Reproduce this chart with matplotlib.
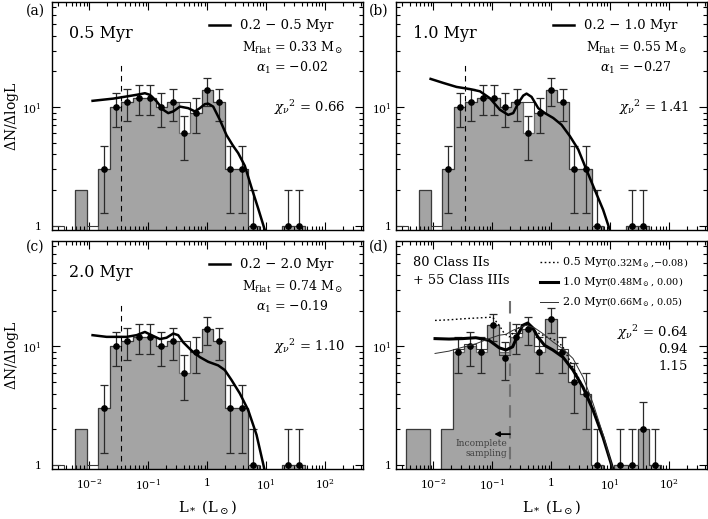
import numpy as np
import matplotlib
matplotlib.use('Agg')
import matplotlib.pyplot as plt
from matplotlib.ticker import FixedLocator, FixedFormatter, LogLocator, NullFormatter

plt.rcParams['font.family'] = ['DejaVu Serif']
plt.rcParams['mathtext.fontset'] = 'dejavuserif'

nan = np.nan
BIN_W = 0.195

# ---------------- data: panels a, b, c (same observed histogram) ----------------
bins_abc = [-2.53, -2.335, -2.14, -1.945, -1.75, -1.555, -1.36, -1.165, -0.97, -0.775, -0.58,
            -0.385, -0.19, 0.005, 0.2, 0.395, 0.59, 0.785, 0.98, 1.175, 1.37, 1.565]
fill_abc = [0, 0, 2, 0, 3, 10, 11, 12, 12, 10, 11, 6, 9, 14, 11, 3, 3, 1, 0, 0, 1, 1]
outline_abc = [1, 0, 2, 1, 3, 10, 11, 12, 12, 10, 11, 11, 9, 14, 11, 3, 3, 1, 0, 0, 1, 1]
dots_abc = [nan, nan, nan, nan, 3, 10, 11, 12, 12, 10, 11, 6, 9, 14, 11, 3, 3, 1, nan, nan, 1, 1]

# model curves (log L, dN/dlogL)
curve_a_logL = [-1.944, -1.593, -1.367, -1.198, -1.056, -0.972, -0.859, -0.746, -0.661, -0.576,
                -0.463, -0.322, -0.209, -0.124, -0.040, 0.017, 0.102, 0.215, 0.328, 0.441,
                0.525, 0.638, 0.751, 0.864, 0.977]
curve_a_val = [11.3, 11.8, 12.3, 12.7, 13.1, 12.7, 11.2, 9.5, 8.9, 9.2, 10.1, 9.8, 9.2, 9.8,
               10.6, 10.7, 10.1, 7.8, 5.8, 4.7, 4.1, 3.2, 2.1, 1.4, 0.92]
curve_b_logL = [-2.045, -1.831, -1.605, -1.379, -1.209, -1.040, -0.870, -0.729, -0.644, -0.559,
                -0.475, -0.418, -0.333, -0.220, -0.107, 0.034, 0.175, 0.316, 0.458, 0.599,
                0.740, 0.881, 0.994]
curve_b_val = [17.3, 16.0, 14.8, 14.2, 13.6, 11.9, 9.5, 8.6, 8.9, 10.8, 12.5, 13.0, 12.2, 9.8,
               8.9, 8.1, 7.1, 5.7, 4.4, 2.95, 2.0, 1.36, 0.92]
curve_c_logL = [-1.944, -1.706, -1.367, -1.198, -1.056, -0.944, -0.802, -0.689, -0.576, -0.492,
                -0.407, -0.266, -0.124, 0.017, 0.186, 0.299, 0.412, 0.554, 0.695, 0.836, 0.977]
curve_c_val = [12.4, 12.0, 12.0, 12.4, 13.2, 12.4, 11.5, 11.8, 12.8, 12.4, 10.8, 9.2, 8.1, 7.4,
               6.9, 6.3, 5.2, 4.0, 2.9, 1.8, 0.89]

# ---------------- data: panel d ----------------
bins_d = [-2.358, -2.162, -1.966, -1.77, -1.574, -1.378, -1.182, -0.986, -0.79, -0.594, -0.398,
          -0.202, -0.006, 0.19, 0.386, 0.582, 0.778, 0.974, 1.17, 1.366, 1.562, 1.758]
fill_d = [2, 2, 0, 2, 9, 10, 9, 15, 9, 12, 14, 9, 17, 9, 5, 4, 1, 0, 1, 1, 2, 1]
outline_d = [2, 2, 0, 2, 9.5, 10.5, 9.5, 15, 8.5, 13, 14, 10, 17, 9.5, 5, 4, 1, 0, 1, 1, 2, 1]
dots_d = [nan, nan, nan, nan, 9, 10, 9, 15, 8, 12, 14, 9, 17, 9, 5, 4, 1, nan, 1, 1, 2, 1]

curve_d_logL = [-1.97, -1.733, -1.506, -1.278, -1.051, -0.881, -0.767, -0.653, -0.568, -0.483,
                -0.398, -0.313, -0.227, -0.114, 0.028, 0.199, 0.369, 0.540, 0.710, 0.881, 1.05]
curve_d05_logL = [-1.97, -1.733, -1.449, -1.165, -0.994, -0.881, -0.795, -0.710, -0.597, -0.483,
                  -0.398, -0.256, -0.085, 0.085, 0.199, 0.341, 0.483, 0.653, 0.824, 0.994, 1.05]
curve_d05_val = [16.5, 16.7, 17.1, 17.4, 17.6, 15.0, 12.8, 12.0, 13.6, 15.5, 14.7, 13.2, 12.0,
                 11.2, 9.9, 7.1, 5.2, 3.5, 2.1, 1.1, 0.91]
curve_d10_val = [11.6, 11.5, 11.6, 11.8, 11.2, 9.7, 9.3, 9.9, 12.4, 15.0, 15.7, 14.3, 12.0, 10.2,
                 9.3, 8.1, 6.3, 4.5, 2.9, 1.7, 0.91]
curve_d20_logL = [-1.97, -1.733, -1.506, -1.278, -1.051, -0.881, -0.767, -0.653, -0.540, -0.426,
                  -0.284, -0.142, 0.028, 0.199, 0.369, 0.540, 0.710, 0.881, 1.05]
curve_d20_val = [8.7, 9.1, 9.8, 10.5, 11.6, 12.4, 12.6, 13.6, 14.3, 15.0, 14.3, 12.8, 10.9, 9.5,
                 7.9, 5.5, 3.3, 1.8, 0.91]

xtick_vals = [1e-2, 1e-1, 1, 10, 100]
xtick_labels = [r'$10^{-2}$', r'$10^{-1}$', '1', r'$10^{1}$', r'$10^{2}$']
ytick_vals = [1, 10]
ytick_labels = ['1', r'$10^{1}$']

# ---------------- figure ----------------
fig = plt.figure(figsize=(7.08, 5.19), dpi=100)
W, H = 708, 519


def add_axes(l, r, t, b):
    return fig.add_axes([l / W, (H - b) / H, (r - l) / W, (b - t) / H])


ax_a = add_axes(51.7, 362.7, 2, 230)
ax_b = add_axes(395.7, 706.7, 2, 230)
ax_c = add_axes(51.7, 362.7, 241, 469.3)
ax_d = add_axes(395.7, 706.7, 241, 469.3)

XLIM = (10 ** -2.637, 10 ** 2.637)
YLIM = (0.92, 77)
BASE = 0.5


def draw_hist(ax, centers, fillv, outv, dots):
    c = np.asarray(centers)
    edges = 10 ** np.append(c - BIN_W / 2, c[-1] + BIN_W / 2)
    fv = np.where(np.asarray(fillv) > 0, fillv, BASE)
    ov = np.where(np.asarray(outv) > 0, outv, BASE)
    ax.stairs(fv, edges, baseline=BASE, fill=True, color='#a4a4a4', zorder=1)
    ax.stairs(fv, edges, baseline=BASE, color='#6a6a6a', lw=0.9, zorder=2)
    ax.stairs(ov, edges, baseline=BASE, color='#3a3a3a', lw=0.8, zorder=2)
    d = np.asarray(dots, dtype=float)
    m = ~np.isnan(d)
    x = 10 ** c[m]
    y = d[m]
    err = np.sqrt(y)
    lo = np.minimum(err, y - 0.6)
    ax.errorbar(x, y, yerr=[lo, err], fmt='o', color='black', ms=3.8,
                ecolor='#2a2a2a', elinewidth=0.9, capsize=2.6, capthick=0.9, zorder=3)


def style(ax, xlabels, ypad):
    ax.set_xscale('log')
    ax.set_yscale('log')
    ax.set_xlim(*XLIM)
    ax.set_ylim(*YLIM)
    ax.xaxis.set_major_locator(FixedLocator(xtick_vals))
    ax.xaxis.set_minor_locator(LogLocator(base=10, subs=np.arange(2, 10)))
    ax.yaxis.set_major_locator(FixedLocator(ytick_vals))
    ax.yaxis.set_minor_locator(FixedLocator([2, 3, 4, 5, 6, 7, 8, 9, 20, 30, 40, 50, 60, 70]))
    ax.xaxis.set_minor_formatter(NullFormatter())
    ax.yaxis.set_minor_formatter(NullFormatter())
    if xlabels:
        ax.xaxis.set_major_formatter(FixedFormatter(xtick_labels))
    else:
        ax.xaxis.set_major_formatter(NullFormatter())
    ax.yaxis.set_major_formatter(FixedFormatter(ytick_labels))
    ax.tick_params(which='both', direction='in', top=True, right=True, width=0.8, labelsize=7.8)
    ax.tick_params(which='major', length=6)
    ax.tick_params(which='minor', length=3)
    ax.tick_params(axis='x', pad=6)
    ax.tick_params(axis='y', pad=ypad)
    for s in ax.spines.values():
        s.set_linewidth(1.0)


for ax in (ax_a, ax_b, ax_c):
    draw_hist(ax, bins_abc, fill_abc, outline_abc, dots_abc)
    ax.plot([0.035, 0.035], [BASE, 24], color='black', lw=0.8, dashes=(5, 4), zorder=2.5)

ax_a.plot(10 ** np.asarray(curve_a_logL), curve_a_val, color='black', lw=1.8, zorder=4)
ax_b.plot(10 ** np.asarray(curve_b_logL), curve_b_val, color='black', lw=1.8, zorder=4)
ax_c.plot(10 ** np.asarray(curve_c_logL), curve_c_val, color='black', lw=1.8, zorder=4)

draw_hist(ax_d, bins_d, fill_d, outline_d, dots_d)
ax_d.plot([0.2, 0.2], [BASE, 25], color='#707070', lw=1.5, dashes=(6, 4), zorder=2.5)
ax_d.plot(10 ** np.asarray(curve_d05_logL), curve_d05_val, color='black', lw=1.0, ls=(0, (1.2, 1.8)), zorder=4)
ax_d.plot(10 ** np.asarray(curve_d_logL), curve_d10_val, color='black', lw=2.2, zorder=4)
ax_d.plot(10 ** np.asarray(curve_d20_logL), curve_d20_val, color='#303030', lw=0.7, zorder=4)

style(ax_a, False, 7)
style(ax_b, False, 3)
style(ax_c, True, 7)
style(ax_d, True, 3)

# ---------------- annotations for a, b, c ----------------
for ax, age, rng, mflat, alpha, chi in (
        (ax_a, '0.5 Myr', '0.2 \u2212 0.5 Myr', '0.33', '\u22120.02', '0.66'),
        (ax_b, '1.0 Myr', '0.2 \u2212 1.0 Myr', '0.55', '\u22120.27', '1.41'),
        (ax_c, '2.0 Myr', '0.2 \u2212 2.0 Myr', '0.74', '\u22120.19', '1.10')):
    ax.text(0.056, 0.864, age, transform=ax.transAxes, fontsize=11.5, va='center', ha='left')
    ax.plot([0.506, 0.572], [0.899, 0.899], transform=ax.transAxes, color='black', lw=1.8)
    ax.text(0.605, 0.899, rng, transform=ax.transAxes, fontsize=9.5, va='center', ha='left')
    ax.text(0.776, 0.798, r'M$_{\rm flat}$ = ' + mflat + r' M$_\odot$', transform=ax.transAxes,
            fontsize=9, va='center', ha='center')
    ax.text(0.773, 0.711, r'$\alpha_1$ = ' + alpha, transform=ax.transAxes,
            fontsize=9, va='center', ha='center')
    ax.text(0.945, 0.539, r'$\chi_\nu{}^{2}$ = ' + chi, transform=ax.transAxes,
            fontsize=9.5, va='center', ha='right')

# ---------------- annotations for d ----------------
ax_d.text(0.056, 0.908, '80 Class IIs', transform=ax_d.transAxes, fontsize=9.3, va='center')
ax_d.text(0.056, 0.829, '+ 55 Class IIIs', transform=ax_d.transAxes, fontsize=9.3, va='center')
leg = [((0, (1.2, 1.8)), 1.0, 'black', 0.908, '0.5 Myr', '(0.32M$_\\odot$,\u22120.08)'),
       ('-', 2.2, 'black', 0.821, '1.0 Myr', '(0.48M$_\\odot$, 0.00)'),
       ('-', 0.7, '#303030', 0.733, '2.0 Myr', '(0.66M$_\\odot$, 0.05)')]
for ls, lw, col, yy, lab, par in leg:
    ax_d.plot([0.464, 0.522], [yy, yy], transform=ax_d.transAxes, color=col, lw=lw, ls=ls)
    ax_d.text(0.539, yy, lab, transform=ax_d.transAxes, fontsize=8, va='center')
    ax_d.text(0.677, yy, par, transform=ax_d.transAxes, fontsize=7.0, va='center')
ax_d.text(0.940, 0.598, r'$\chi_\nu{}^{2}$ = 0.64', transform=ax_d.transAxes, fontsize=9.5,
          va='center', ha='right')
ax_d.text(0.940, 0.523, '0.94', transform=ax_d.transAxes, fontsize=9.5, va='center', ha='right')
ax_d.text(0.940, 0.449, '1.15', transform=ax_d.transAxes, fontsize=9.5, va='center', ha='right')
ax_d.annotate('', xy=(0.108, 1.82), xytext=(0.2, 1.82),
              arrowprops=dict(arrowstyle='-|>', color='black', lw=1.3, mutation_scale=7,
                              shrinkA=0, shrinkB=0))
ax_d.text(0.18, 1.53, 'Incomplete', fontsize=6.5, ha='right', va='center', color='#404040')
ax_d.text(0.18, 1.26, 'sampling', fontsize=6.5, ha='right', va='center', color='#404040')

# ---------------- labels ----------------
for lab, x, y in (('(a)', 35, 11), ('(b)', 379, 11), ('(c)', 35, 247), ('(d)', 379, 247)):
    fig.text(x / W, (H - y) / H, lab, fontsize=10, ha='center', va='center')
for y in (116, 355):
    fig.text(12 / W, (H - y) / H, r'$\Delta$N/$\Delta$logL', rotation=90, fontsize=10,
             ha='center', va='center')
for x in (207, 551.7):
    fig.text(x / W, (H - 507) / H, r'L$_*$ (L$_\odot$)', fontsize=10.5, ha='center', va='center')

fig.savefig('out.png', dpi=100)
